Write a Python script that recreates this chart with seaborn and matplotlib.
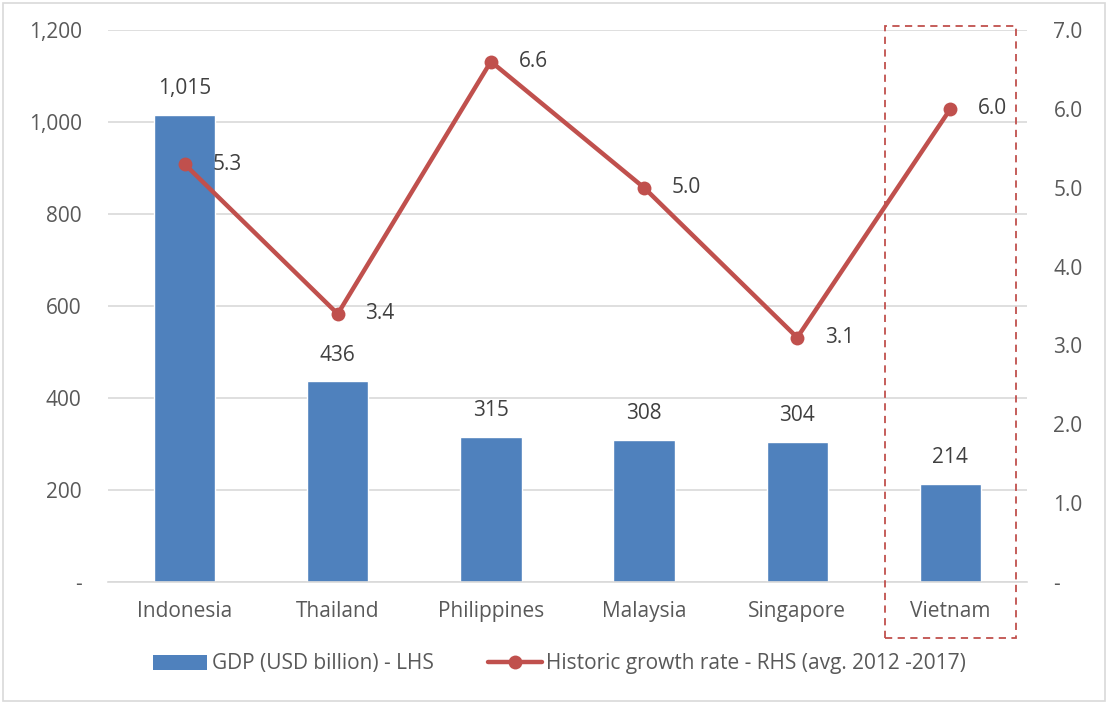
import numpy as np
import pandas as pd
import seaborn as sns
import matplotlib.pyplot as plt
from matplotlib.patches import Rectangle
from matplotlib.lines import Line2D
from matplotlib.patches import Patch
import matplotlib.transforms as mtransforms
from matplotlib.ticker import FuncFormatter

countries = ["Indonesia", "Thailand", "Philippines", "Malaysia", "Singapore", "Vietnam"]
gdp_usd_bn = [1015, 436, 315, 308, 304, 214]
growth_rate = [5.3, 3.4, 6.6, 5.0, 3.1, 6.0]
gdp_ticks = [0, 200, 400, 600, 800, 1000, 1200]
growth_ticks = [0, 1, 2, 3, 4, 5, 6, 7]

BLUE = "#4F81BD"
RED = "#C0504D"
TEXT = "#595959"
GRID = "#D9D9D9"
FS = 15

sns.set_style("white")
plt.rcParams["font.family"] = ["Open Sans", "DejaVu Sans"]
plt.rcParams["font.size"] = FS

df = pd.DataFrame({"country": countries, "gdp": gdp_usd_bn, "growth": growth_rate})

fig = plt.figure(figsize=(11.08, 7.04), dpi=100)
ax = fig.add_axes([108 / 1108, 1 - 582 / 704, (1027 - 108) / 1108, (582 - 30) / 704])

sns.barplot(data=df, x="country", y="gdp", color=BLUE, saturation=1, width=0.4, ax=ax, zorder=2)
ax.set_ylim(0, 1200)
ax.set_xlim(-0.5, len(countries) - 0.5)
ax.set_yticks(gdp_ticks)
ax.yaxis.set_major_formatter(FuncFormatter(lambda v, p: "-" if v == 0 else f"{v:,.0f}"))
ax.grid(axis="y", color=GRID, linewidth=1.2, zorder=0)
ax.set_axisbelow(True)
for s in ["top", "right", "left"]:
    ax.spines[s].set_visible(False)
ax.spines["bottom"].set_color(GRID)
ax.spines["bottom"].set_linewidth(1.2)
ax.tick_params(axis="y", length=0, pad=19, labelcolor=TEXT, labelsize=FS)
ax.tick_params(axis="x", length=0, pad=14, labelcolor=TEXT, labelsize=FS)
ax.set_xlabel("")
ax.set_ylabel("")

for i, v in enumerate(gdp_usd_bn):
    ax.annotate(f"{v:,.0f}", (i, v), xytext=(0, 19), textcoords="offset points",
                ha="center", va="center", color="#404040", fontsize=FS)

ax2 = ax.twinx()
sns.lineplot(x=np.arange(len(countries)), y=growth_rate, ax=ax2, color=RED, linewidth=3.2,
             marker="o", markersize=10, markeredgewidth=0, zorder=3)
ax2.set_ylim(0, 7)
ax2.set_yticks(growth_ticks)
ax2.yaxis.set_major_formatter(FuncFormatter(lambda v, p: "-" if v == 0 else f"{v:.1f}"))
for s in ax2.spines.values():
    s.set_visible(False)
ax2.tick_params(axis="y", length=0, pad=19, labelcolor=TEXT, labelsize=FS)
ax2.set_ylabel("")

for i, v in enumerate(growth_rate):
    ax2.annotate(f"{v:.1f}", (i, v), xytext=(20, 0), textcoords="offset points",
                 ha="left", va="center", color="#404040", fontsize=FS)

# Highlight box around the last category, spilling below the axis labels
trans = mtransforms.blended_transform_factory(ax.transData, ax.transAxes)
hl = len(countries) - 1
box = Rectangle((hl - 0.425, -0.101), 0.85, 1.108, transform=trans, fill=False,
                edgecolor=RED, linestyle=(0, (4, 3)), linewidth=1.3, clip_on=False, zorder=5)
ax.add_patch(box)

handles = [Patch(facecolor=BLUE, edgecolor="none"),
           Line2D([0], [0], color=RED, linewidth=3.2, marker="o", markersize=10, markeredgewidth=0)]
labels = ["GDP (USD billion) - LHS", "Historic growth rate - RHS (avg. 2012 -2017)"]
fig.legend(handles, labels, loc="center", bbox_to_anchor=(0.505, 1 - 664 / 704), ncol=2,
           frameon=False, fontsize=FS, labelcolor=TEXT, handlelength=2.6, handleheight=0.75,
           handletextpad=0.2, columnspacing=2.6)

fig.patches.append(Rectangle((0.003, 0.004), 0.994, 0.992, transform=fig.transFigure,
                             fill=False, edgecolor=GRID, linewidth=1.2))

fig.savefig("out.png", dpi=100)
